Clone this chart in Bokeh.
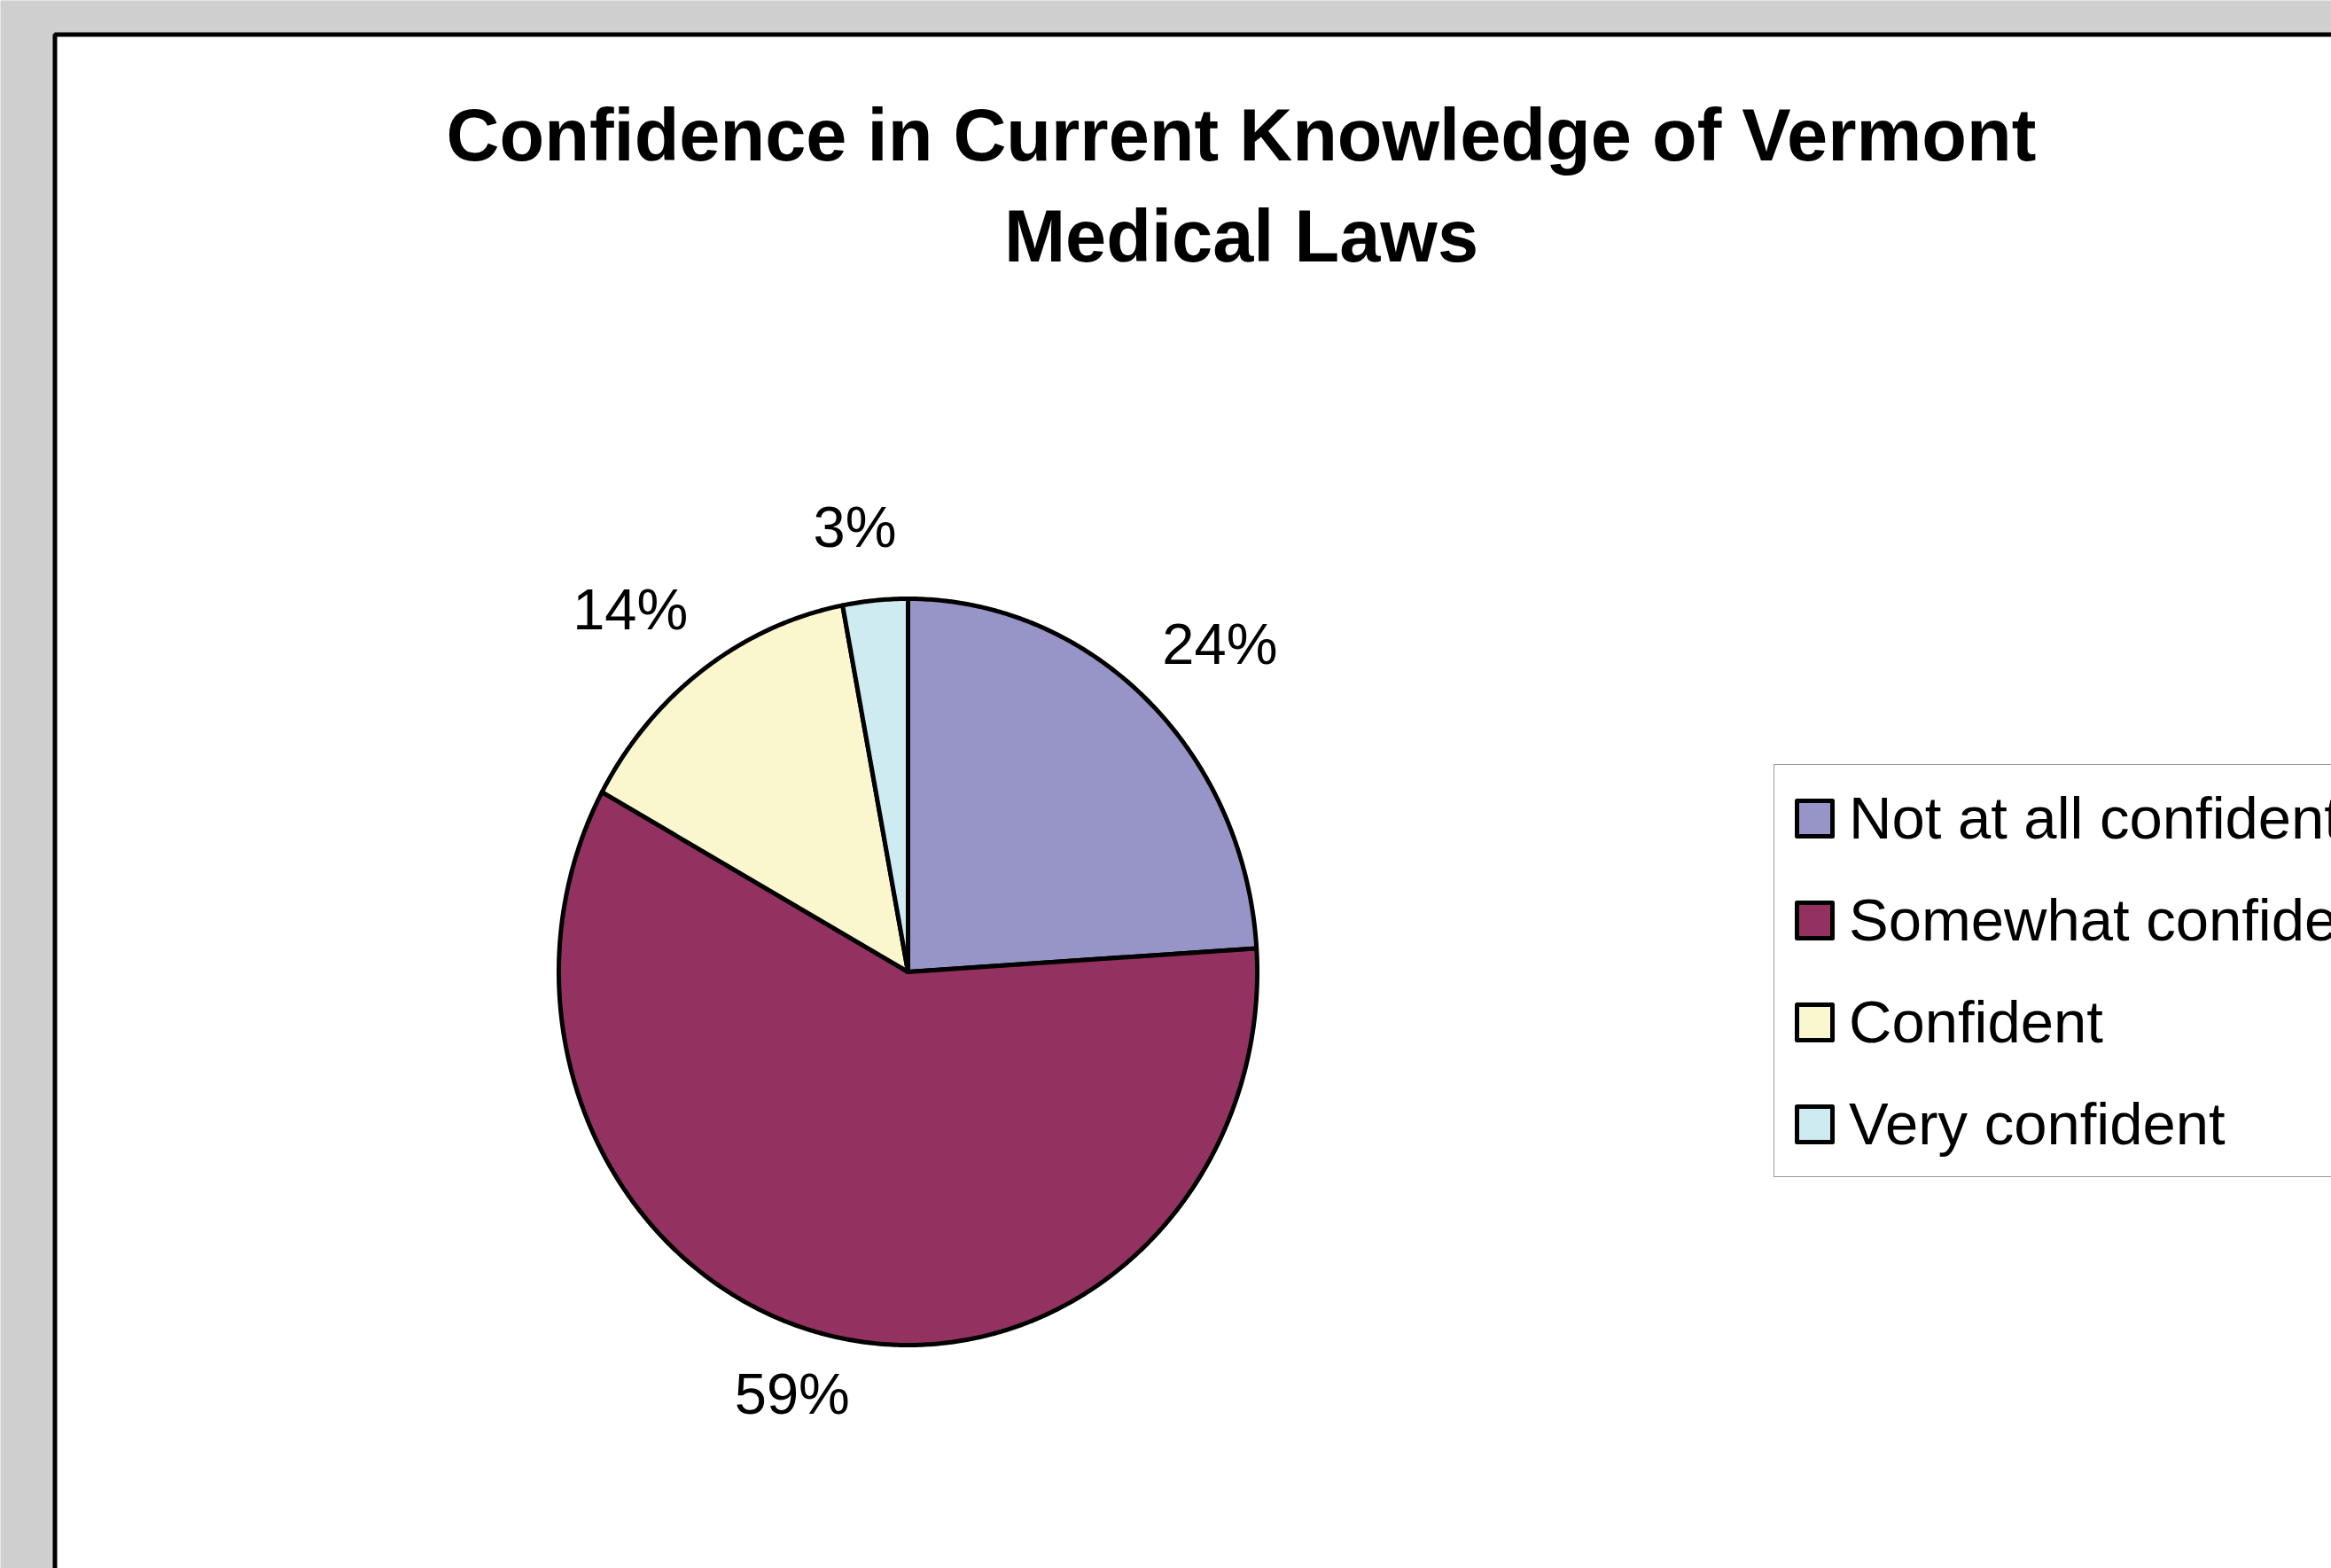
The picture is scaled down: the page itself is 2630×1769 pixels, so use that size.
import math
from bokeh.plotting import figure
from bokeh.models import Range1d, ColumnDataSource, Legend, LegendItem
from bokeh.core.properties import value
from bokeh.embed import file_html
from bokeh.resources import INLINE

# ---- data ----
title_lines = ["Confidence in Current Knowledge of Vermont", "Medical Laws"]
categories = ["Not at all confident", "Somewhat confident", "Confident", "Very confident"]
percents = [24, 59, 14, 3]
colors = ["#9795c7", "#933260", "#faf7ce", "#cdebf0"]

# ---- layout (page pixels) ----
W, H = 2630, 1769
CX, CY = 1024, 1096      # pie centre (px from top-left)
RX, RY = 394, 421        # pie radii (px)
FONT = "Liberation Sans"

p = figure(width=W, height=H, x_range=Range1d(0, W), y_range=Range1d(H, 0),
           output_backend="svg", toolbar_location=None, min_border=0,
           x_axis_location=None, y_axis_location=None)
p.grid.visible = False
p.outline_line_color = None
p.background_fill_color = "#cfcfcf"
p.border_fill_color = "#cfcfcf"

# pie coordinate system: unit ellipse
p.extra_x_ranges = {"pie": Range1d(-CX / RX, (W - CX) / RX)}
p.extra_y_ranges = {"pie": Range1d(-(H - CY) / RY, CY / RY)}

# white chart panel with black frame
p.quad(left=[61.5], right=[W + 30], top=[38.5], bottom=[H + 30],
       fill_color="white", line_color="black", line_width=5)

# title
for i, line in enumerate(title_lines):
    p.text(x=[1400], y=[152 + i * 114], text=[line], text_align="center",
           text_baseline="alphabetic", text_font=value(FONT),
           text_font_style="bold", text_font_size="83px", text_color="black")

# pie slices (start at 12 o'clock, clockwise)
total = sum(percents)
xs, ys, mids = [], [], []
start = 0.0
for v in percents:
    ang = 2 * math.pi * v / total
    n = max(4, int(v * 8))
    pts = [start + ang * k / n for k in range(n + 1)]
    xs.append([0.0] + [math.sin(a) for a in pts])
    ys.append([0.0] + [math.cos(a) for a in pts])
    mids.append(start + ang / 2)
    start += ang

src = ColumnDataSource(dict(xs=xs, ys=ys, color=colors, label=categories))
r = p.patches("xs", "ys", source=src, fill_color="color", line_color="black",
              line_width=5, line_join="round",
              x_range_name="pie", y_range_name="pie")

# data labels, outside end
LFS = 65
def text_w(s):
    return sum(0.889 if c == "%" else 0.556 for c in s) * LFS

def sgn_sqrt(s):
    return math.copysign(math.sqrt(abs(s)), s)

labels = [f"{v}%" for v in percents]
k = 1.12
lx = [k * math.sin(a) for a in mids]
ly = [k * math.cos(a) for a in mids]
xo = [text_w(t) / 2 * sgn_sqrt(math.sin(a)) - 4 for t, a in zip(labels, mids)]
yo = [-(LFS * 0.38) * math.cos(a) - 8 for a in mids]
lsrc = ColumnDataSource(dict(x=lx, y=ly, text=labels, xo=xo, yo=yo))
p.text(x="x", y="y", text="text", x_offset="xo", y_offset="yo", source=lsrc,
       text_align="center", text_baseline="middle", text_font=value(FONT),
       text_font_size=f"{LFS}px", text_color="black",
       x_range_name="pie", y_range_name="pie")

# legend
items = [LegendItem(label=c, renderers=[r], index=i) for i, c in enumerate(categories)]
legend = Legend(items=items, location=(2001, H - 1328), orientation="vertical",
                glyph_width=50, glyph_height=50, label_standoff=14,
                label_height=79, spacing=36, padding=20, margin=0,
                label_text_font=FONT, label_text_font_size="67px",
                label_text_color="black",
                border_line_color="#333333", border_line_width=1.5,
                background_fill_color="white", background_fill_alpha=1.0)
p.add_layout(legend, "center")

open("out.html", "w").write(file_html(p, INLINE))
